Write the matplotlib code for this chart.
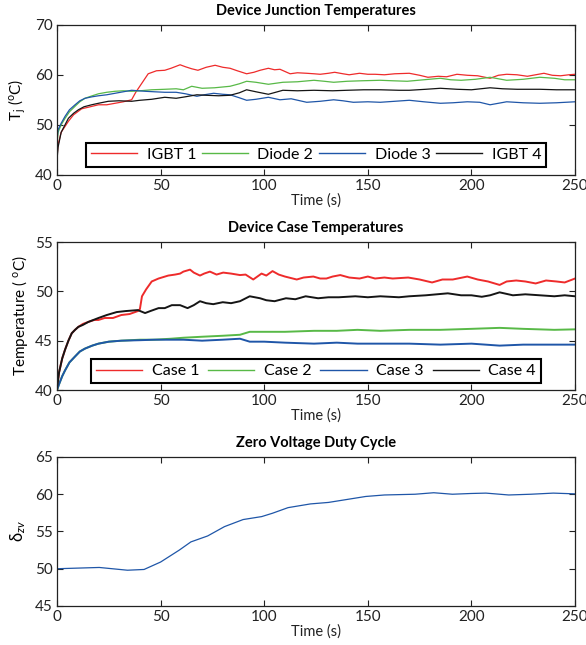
import numpy as np
import matplotlib
matplotlib.use('Agg')
import matplotlib.pyplot as plt

plt.rcParams['font.family'] = ['Lato', 'DejaVu Sans']
plt.rcParams['mathtext.fontset'] = 'custom'
plt.rcParams['mathtext.rm'] = 'Lato'
plt.rcParams['mathtext.it'] = 'Lato:italic'

# --- Device junction temperatures (top) ---
t_igbt1 = [0, 0.5, 2, 5.5, 8, 11.9, 16, 20, 24, 28, 32, 36, 38, 44, 48, 52, 55, 59.4, 62, 65,
           68, 72, 76.3, 80, 83.5, 87, 91.5, 95, 98, 102, 105, 107.6, 112.5, 116, 120.5, 124, 127,
           131, 134, 138, 141, 146, 150, 153.5, 158, 163, 170, 175, 179, 184, 188, 193, 198, 203,
           209, 213, 217, 222, 227, 231, 235, 239, 243, 247, 250]
igbt1 = [43.5, 46, 48.5, 50.7, 52, 53.2, 53.6, 54.0, 54.0, 54.3, 54.6, 55.0, 56.5, 60.2, 60.8,
         60.9, 61.3, 62.0, 61.6, 61.2, 60.9, 61.5, 61.9, 61.5, 61.3, 60.8, 60.2, 60.5, 60.9, 61.3,
         61.0, 61.1, 60.2, 60.4, 60.3, 60.2, 60.1, 60.3, 60.5, 60.2, 60.0, 60.3, 60.1, 60.1, 60.0,
         60.2, 60.3, 59.9, 59.5, 59.7, 59.6, 60.1, 59.9, 59.8, 59.3, 59.9, 60.1, 60.0, 59.7, 60.0,
         60.3, 59.9, 59.8, 60.0, 60.1]

t_diode2 = [0, 0.5, 2, 3.9, 6, 8.7, 11, 13.5, 17, 20, 24, 28, 32, 36, 40, 45.7, 52, 57.5, 61, 65,
            70, 76, 83.5, 88, 91.5, 96, 102, 109, 116, 124, 129, 133.5, 140, 147, 156, 162, 169,
            177, 185, 190, 195, 202, 209, 213, 217, 225, 233, 240, 245, 250]
diode2 = [46, 48.5, 50, 51.3, 52.6, 53.7, 54.6, 55.3, 55.8, 56.2, 56.5, 56.7, 56.8, 56.7, 56.8,
          57.0, 57.1, 57.2, 57.0, 57.7, 57.3, 57.4, 57.7, 58.2, 58.7, 58.5, 58.1, 58.5, 58.6, 58.9,
          58.7, 58.5, 58.7, 58.8, 58.9, 58.8, 58.7, 59.0, 59.3, 59.0, 58.9, 59.1, 59.5, 59.2, 58.9,
          59.1, 59.5, 59.3, 59.0, 59.0]

t_diode3 = [0, 0.5, 2, 3.9, 6, 8.7, 11, 13.5, 17, 20, 24, 28, 32, 36, 42.5, 47, 52, 57.5, 62,
            67.5, 71, 75.6, 80, 83.5, 88, 91.5, 96, 102, 107.6, 113, 120.5, 127, 133.5, 138, 143,
            150, 156, 163, 170, 177, 185, 191, 198, 204, 209, 213, 217, 225, 233, 241, 250]
diode3 = [47, 49, 50.3, 51.7, 53, 54, 54.8, 55.3, 55.6, 55.8, 56.0, 56.3, 56.6, 56.9, 56.7, 56.6,
          56.5, 56.5, 56.2, 55.7, 56.0, 56.3, 56.1, 56.0, 55.4, 54.9, 55.1, 55.5, 55.0, 55.2, 54.5,
          54.7, 55.0, 54.8, 54.5, 54.6, 54.5, 54.7, 54.9, 54.6, 54.3, 54.4, 54.6, 54.5, 54.0, 54.3,
          54.6, 54.4, 54.3, 54.4, 54.6]

t_igbt4 = [0, 0.5, 2, 5.5, 8, 10.3, 13, 16.7, 20, 24.8, 30, 36, 40, 45.7, 52, 57.5, 62, 67.5, 72,
           78, 83.5, 88, 91.5, 96, 102, 109, 116, 124, 133, 140, 148, 156, 165, 170, 178, 185,
           193, 200, 209, 215, 222, 233, 241, 250]
igbt4 = [43, 45.5, 48.5, 51.3, 52.3, 53.0, 53.6, 54.0, 54.3, 54.7, 54.8, 54.7, 54.9, 55.1, 55.5,
         55.3, 55.6, 56.0, 55.9, 55.8, 55.9, 56.4, 57.0, 56.6, 56.1, 56.9, 56.8, 56.9, 56.8, 56.9,
         57.0, 57.0, 56.9, 56.9, 57.1, 57.3, 57.1, 57.0, 57.4, 57.2, 57.1, 57.1, 57.0, 57.0]

# --- Device case temperatures (middle) ---
t_case1 = [0, 1, 2.5, 3.9, 5.5, 7.1, 8.7, 10.3, 12.5, 15.1, 18, 20, 23, 27, 31, 35, 39, 40, 41,
           43, 45.7, 49, 53.7, 57, 59.4, 61, 64.2, 66, 69, 71, 73.8, 77, 80.2, 84, 88.3, 91,
           94.7, 98.7, 101, 104, 107, 110, 115.7, 119, 123.7, 127, 130, 133, 136.7, 141, 146,
           150, 153.5, 158, 162, 169.5, 175, 181, 186, 191, 198, 203, 208, 213.6, 217, 221.6,
           226, 231, 236, 241, 245, 250]
case1 = [40.2, 41.8, 43.2, 44.1, 45.0, 45.75, 46.1, 46.4, 46.7, 46.9, 47.1, 47.1, 47.3, 47.3,
         47.6, 47.7, 48.0, 48.2, 49.5, 50.2, 51.0, 51.3, 51.6, 51.7, 51.8, 52.0, 52.2, 51.9, 51.6,
         51.8, 52.0, 51.7, 51.9, 51.8, 51.65, 51.7, 51.2, 51.8, 51.6, 52.05, 51.7, 51.5, 51.2,
         51.4, 51.5, 51.3, 51.3, 51.5, 51.65, 51.4, 51.3, 51.5, 51.3, 51.4, 51.3, 51.4, 51.2,
         50.9, 51.2, 51.2, 51.5, 51.2, 51.0, 50.65, 51.0, 51.1, 51.0, 50.8, 51.1, 51.0, 50.9, 51.3]

t_case4 = [0, 1, 2.5, 3.9, 5.5, 7.1, 8.7, 10.3, 12.5, 15.1, 20, 24, 28.8, 33, 39, 42.5, 45, 49,
           52, 55.4, 59.4, 63, 66, 69, 72, 75.4, 80, 84, 88.3, 93, 98, 101, 105, 110.5, 115, 120,
           126, 131, 136, 144, 150, 156, 165, 170, 178, 188.6, 195, 200, 205, 209, 213.6, 220,
           226, 233, 240, 245, 250]
case4 = [40.2, 41.8, 43.2, 44.1, 45.0, 45.75, 46.1, 46.4, 46.6, 46.9, 47.3, 47.6, 47.9, 48.0,
         48.1, 47.8, 48.0, 48.3, 48.3, 48.6, 48.6, 48.3, 48.6, 49.0, 48.8, 48.7, 48.9, 48.8, 49.0,
         49.5, 49.3, 49.1, 49.0, 49.3, 49.2, 49.5, 49.3, 49.4, 49.4, 49.5, 49.4, 49.5, 49.4, 49.5,
         49.6, 49.8, 49.6, 49.6, 49.45, 49.6, 49.9, 49.6, 49.7, 49.6, 49.5, 49.6, 49.5]

t_case23 = [0, 1, 2.5, 3.9, 6, 8.7, 11, 13.5, 17, 20, 25, 31, 40, 47, 55, 61, 70, 80, 88.3, 93,
            100, 110, 124, 135, 145, 156, 170, 185, 200, 213.6, 225, 240, 250]
case2 = [40.0, 40.6, 41.4, 42.0, 42.8, 43.4, 43.9, 44.2, 44.5, 44.7, 44.9, 45.0, 45.1, 45.1,
         45.2, 45.3, 45.4, 45.5, 45.6, 45.9, 45.9, 45.9, 46.0, 46.0, 46.1, 46.0, 46.1, 46.1, 46.2,
         46.3, 46.2, 46.1, 46.15]
case3 = [40.0, 40.6, 41.4, 42.0, 42.8, 43.4, 43.9, 44.2, 44.5, 44.7, 44.9, 45.0, 45.05, 45.1,
         45.1, 45.1, 45.0, 45.1, 45.2, 44.9, 44.9, 44.8, 44.7, 44.8, 44.7, 44.7, 44.7, 44.6, 44.7,
         44.5, 44.6, 44.6, 44.6]

# --- Zero voltage duty cycle (bottom) ---
t_duty = [0, 20.4, 34, 42, 50, 59, 64.6, 72.7, 80.8, 89.8, 98.8, 104, 111.5, 122.3, 131, 140,
          149, 158, 172.8, 181.8, 190.8, 199.8, 207, 218, 228.7, 239.5, 250]
duty = [50.0, 50.17, 49.8, 49.9, 50.9, 52.5, 53.6, 54.4, 55.65, 56.6, 57.0, 57.45, 58.2, 58.7,
        58.9, 59.3, 59.7, 59.9, 60.0, 60.2, 60.0, 60.1, 60.15, 59.9, 60.0, 60.15, 60.05]

RED = '#ee2b2b'
GREEN = '#58b947'
BLUE = '#1f56a8'
BLACK = '#151515'
FS = 11


def style_axes(ax, ylim, yticks):
    ax.set_xlim(0, 250)
    ax.set_ylim(*ylim)
    ax.set_xticks(np.arange(0, 251, 50))
    ax.set_yticks(yticks)
    ax.tick_params(direction='in', top=True, right=True, length=4, width=0.8,
                   labelsize=FS, colors='#222222', pad=3)
    for s in ax.spines.values():
        s.set_linewidth(0.9)
        s.set_color('#222222')
    ax.set_xlabel('Time (s)', fontsize=FS - 0.5, labelpad=0, color='#222222')


def add_legend(ax, bbox):
    leg = ax.legend(ncol=4, loc='lower left', bbox_to_anchor=bbox, mode='expand',
                    fontsize=FS + 0.5, frameon=True, fancybox=False, framealpha=1,
                    edgecolor='black', handlelength=2.9, handletextpad=0.6,
                    borderpad=0.3, borderaxespad=0, columnspacing=1.0)
    leg.get_frame().set_linewidth(1.5)
    for line in leg.get_lines():
        line.set_linewidth(1.0)


fig = plt.figure(figsize=(5.86, 6.45), dpi=100)
ax1 = fig.add_axes([0.0973, 0.729, 0.884, 0.2326])
ax2 = fig.add_axes([0.0973, 0.3953, 0.884, 0.2295])
ax3 = fig.add_axes([0.0973, 0.0605, 0.884, 0.231])

ax1.plot(t_igbt1, igbt1, color=RED, lw=0.9, label='IGBT 1')
ax1.plot(t_diode2, diode2, color=GREEN, lw=0.9, label='Diode 2')
ax1.plot(t_diode3, diode3, color=BLUE, lw=0.9, label='Diode 3')
ax1.plot(t_igbt4, igbt4, color=BLACK, lw=0.9, label='IGBT 4')
style_axes(ax1, (40, 70), [40, 50, 60, 70])
ax1.set_ylabel(r'T$_\mathregular{j}$ ($^\mathregular{o}$C)', fontsize=FS, labelpad=5)
ax1.set_title('Device Junction Temperatures', fontsize=FS - 0.5, fontweight='bold', pad=7)
add_legend(ax1, (0.056, 0.053, 0.888, 0.174))

ax2.plot(t_case1, case1, color=RED, lw=1.4, label='Case 1')
ax2.plot(t_case23, case2, color=GREEN, lw=1.4, label='Case 2')
ax2.plot(t_case23, case3, color=BLUE, lw=1.4, label='Case 3')
ax2.plot(t_case4, case4, color=BLACK, lw=1.4, label='Case 4')
style_axes(ax2, (40, 55), [40, 45, 50, 55])
ax2.set_ylabel(r'Temperature ( $^\mathregular{o}$C)', fontsize=FS, labelpad=4)
ax2.set_title('Device Case Temperatures', fontsize=FS - 0.5, fontweight='bold', pad=7)
add_legend(ax2, (0.066, 0.047, 0.868, 0.183))

ax3.plot(t_duty, duty, color=BLUE, lw=0.9)
style_axes(ax3, (45, 65), [45, 50, 55, 60, 65])
ax3.set_ylabel(r'δ$_{zv}$', fontsize=FS + 1, labelpad=5)
ax3.set_title('Zero Voltage Duty Cycle', fontsize=FS - 0.5, fontweight='bold', pad=7)

fig.savefig('out.png', dpi=100)
